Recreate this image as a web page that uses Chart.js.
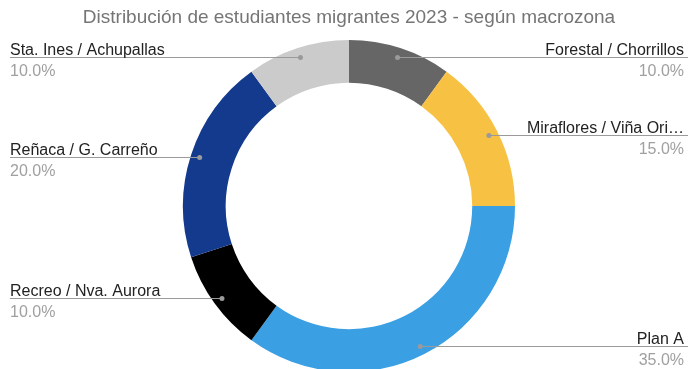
<!DOCTYPE html>
<html lang="es">
<head>
<meta charset="utf-8">
<script src="https://cdn.jsdelivr.net/npm/chart.js@4/dist/chart.umd.min.js"></script>
<style>
  html, body { margin: 0; padding: 0; background: #fff; overflow: hidden; }
  #wrap { width: 688px; height: 369px; }
</style>
</head>
<body>
<div id="wrap"><canvas id="donut"></canvas></div>
<script>
// --- datos ---
const zones = ['Forestal / Chorrillos', 'Miraflores / Viña Ori…', 'Plan A', 'Recreo / Nva. Aurora', 'Reñaca / G. Carreño', 'Sta. Ines / Achupallas'];
const shares = [10, 15, 35, 10, 20, 10];
const sliceColors = ['#666666', '#F7C244', '#3A9FE3', '#000000', '#143A8E', '#CBCBCB'];
const chartTitle = 'Distribución de estudiantes migrantes 2023 - según macrozona';

const FONT = '"Liberation Sans", Arial, sans-serif';

// etiquetas externas con línea guía (como en Google Sheets)
const outsideLabels = {
    id: 'outsideLabels',
    afterDatasetsDraw(chart) {
        const ctx = chart.ctx;
        const meta = chart.getDatasetMeta(0);
        const total = shares.reduce((a, b) => a + b, 0);
        const W = chart.width;

        ctx.save();
        meta.data.forEach((arc, i) => {
            const p = arc.getProps(['x', 'y', 'startAngle', 'endAngle', 'outerRadius'], true);
            const mid = (p.startAngle + p.endAngle) / 2;
            const r = p.outerRadius - 9;
            const dx = p.x + Math.cos(mid) * r;
            const dy = Math.round(p.y + Math.sin(mid) * r) + 0.5;
            const left = dx < p.x;
            const endX = left ? 10 : W;

            // línea
            ctx.strokeStyle = '#9a9a9a';
            ctx.lineWidth = 1;
            ctx.beginPath();
            ctx.moveTo(dx, dy);
            ctx.lineTo(endX, dy);
            ctx.stroke();

            // punto
            ctx.fillStyle = '#9a9a9a';
            ctx.beginPath();
            ctx.arc(dx, dy, 2.5, 0, Math.PI * 2);
            ctx.fill();

            // textos
            const tx = left ? 10 : W - 4;
            ctx.textAlign = left ? 'left' : 'right';
            ctx.font = '16px ' + FONT;
            ctx.fillStyle = '#222222';
            ctx.textBaseline = 'alphabetic';
            ctx.fillText(zones[i], tx, dy - 2.5);

            ctx.fillStyle = '#a0a0a0';
            ctx.textBaseline = 'top';
            ctx.fillText((shares[i] / total * 100).toFixed(1) + '%', tx, dy + 6);
        });
        ctx.restore();
    }
};

new Chart(document.getElementById('donut'), {
    type: 'doughnut',
    data: {
        labels: zones,
        datasets: [{
            data: shares,
            backgroundColor: sliceColors,
            borderWidth: 0,
            radius: 166,
            cutout: 121,
            clip: false
        }]
    },
    options: {
        responsive: true,
        maintainAspectRatio: false,
        animation: false,
        layout: { padding: { left: 10, right: 0, top: 0, bottom: 0 } },
        plugins: {
            legend: { display: false },
            tooltip: { enabled: false },
            title: {
                display: true,
                text: chartTitle,
                color: '#757575',
                font: { family: FONT, size: 19, weight: 'normal' },
                padding: { top: 6, bottom: 14.2 }
            }
        }
    },
    plugins: [outsideLabels]
});
</script>
</body>
</html>
